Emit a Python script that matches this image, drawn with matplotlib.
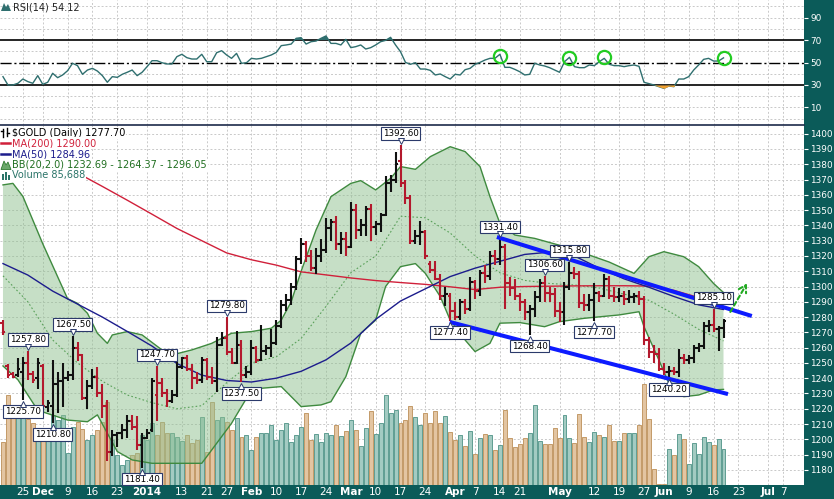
import numpy as np
import matplotlib
matplotlib.use("Agg")
import matplotlib.pyplot as plt
from matplotlib.collections import LineCollection
from matplotlib.patches import Polygon
from matplotlib.transforms import offset_copy

# ---------- $GOLD daily bars, 19 Nov 2013 .. 18 Jun 2014 (one value per trading day) ----------
opens = [1276, 1248, 1243, 1242, 1244, 1250, 1243, 1240, 1248, 1221,
         1222, 1236, 1238, 1240, 1242, 1260, 1255, 1227, 1235, 1241,
         1230, 1222, 1192, 1203, 1204, 1206, 1212, 1208, 1196, 1201,
         1206, 1229, 1237, 1230, 1225, 1229, 1247, 1253, 1246, 1240,
         1239, 1252, 1241, 1238, 1262, 1266, 1257, 1250, 1262, 1242,
         1244, 1260, 1252, 1258, 1260, 1263, 1274, 1288, 1291, 1300,
         1318, 1328, 1320, 1312, 1320, 1324, 1338, 1342, 1328, 1331,
         1326, 1350, 1337, 1340, 1351, 1339, 1341, 1347, 1368, 1370,
         1382, 1368, 1358, 1330, 1333, 1336, 1315, 1311, 1305, 1294,
         1294, 1284, 1280, 1290, 1285, 1303, 1297, 1309, 1307, 1320,
         1318, 1326, 1302, 1299, 1294, 1290, 1283, 1285, 1293, 1302,
         1296, 1295, 1284, 1283, 1300, 1309, 1308, 1289, 1288, 1291,
         1296, 1294, 1305, 1294, 1293, 1294, 1292, 1293, 1294, 1292,
         1265, 1257, 1256, 1246, 1244, 1245, 1244, 1253, 1252, 1253,
         1260, 1261, 1274, 1275, 1272, 1273]
highs = [1278, 1249, 1244, 1253, 1254, 1257.8, 1245, 1253, 1249, 1226,
         1252, 1244, 1250, 1245, 1267.5, 1264, 1256, 1239, 1246, 1247,
         1236, 1226, 1206, 1205, 1210, 1216, 1216, 1215, 1204, 1207,
         1240, 1247.7, 1240, 1233, 1232, 1252, 1254, 1255, 1249, 1244,
         1254, 1253, 1247, 1267, 1270, 1279.8, 1260, 1271, 1265, 1248,
         1265, 1261, 1275, 1262, 1272, 1278, 1291, 1295, 1302, 1320,
         1332, 1330, 1324, 1325, 1331, 1345, 1344, 1346, 1336, 1336,
         1355, 1354, 1344, 1353, 1354, 1343, 1348, 1372, 1373, 1388,
         1392.6, 1370, 1360, 1337, 1343, 1337, 1317, 1317, 1308, 1300,
         1296, 1290, 1292, 1292, 1306, 1304, 1311, 1314, 1323, 1324,
         1331.4, 1328, 1306, 1305, 1296, 1292, 1288, 1297, 1305, 1306.6,
         1300, 1299, 1290, 1303, 1315.8, 1313, 1310, 1295, 1295, 1302,
         1297, 1308, 1307, 1300, 1299, 1297, 1298, 1296, 1297, 1294,
         1267, 1262, 1260, 1250, 1248, 1247, 1259, 1256, 1255, 1262,
         1263, 1277, 1278, 1285.1, 1274, 1279]
lows = [1268, 1240, 1240, 1241, 1225.7, 1239, 1237, 1233, 1221, 1218,
        1210.8, 1217, 1221, 1238, 1239, 1251, 1225.7, 1220, 1233, 1228,
        1214, 1186, 1189, 1195, 1200, 1201, 1206, 1193, 1181.4, 1200,
        1205, 1212, 1228, 1221, 1224, 1228, 1246, 1245, 1233, 1236,
        1237, 1239, 1236, 1231, 1261, 1255, 1249, 1249, 1237.5, 1240,
        1242, 1250, 1251, 1255, 1254, 1262, 1273, 1284, 1288, 1298,
        1315, 1316, 1310, 1308, 1316, 1322, 1330, 1324, 1321, 1320,
        1325, 1331, 1333, 1333, 1330, 1334, 1336, 1346, 1362, 1368,
        1365, 1354, 1328, 1328, 1327, 1318, 1309, 1304, 1291, 1287,
        1277.4, 1278, 1278, 1282, 1284, 1292, 1294, 1302, 1304, 1314,
        1314, 1285, 1294, 1291, 1284, 1278, 1268.4, 1280, 1290, 1290,
        1290, 1280, 1277, 1275, 1298, 1305, 1286, 1284, 1284, 1277.7,
        1290, 1293, 1292, 1290, 1290, 1288, 1289, 1289, 1288, 1262,
        1253, 1250, 1245, 1242, 1240.2, 1242, 1241, 1249, 1249, 1250,
        1257, 1259, 1270, 1270, 1258, 1266]
closes = [1270, 1242, 1241, 1246, 1250, 1243, 1239, 1250, 1222, 1224,
          1236, 1238, 1240, 1242, 1260, 1255, 1227, 1235, 1241, 1230,
          1222, 1192, 1203, 1204, 1206, 1212, 1208, 1196, 1201, 1204,
          1238, 1237, 1230, 1225, 1229, 1247, 1253, 1246, 1240, 1239,
          1252, 1241, 1238, 1262, 1266, 1257, 1250, 1262, 1242, 1244,
          1260, 1252, 1258, 1260, 1263, 1274, 1288, 1291, 1300, 1318,
          1328, 1320, 1312, 1320, 1324, 1338, 1342, 1328, 1331, 1326,
          1350, 1337, 1340, 1351, 1339, 1341, 1347, 1368, 1370, 1380,
          1368, 1358, 1330, 1333, 1336, 1320, 1311, 1305, 1294, 1295,
          1284, 1280, 1290, 1285, 1303, 1297, 1309, 1307, 1320, 1318,
          1326, 1302, 1299, 1294, 1290, 1283, 1285, 1293, 1302, 1296,
          1295, 1284, 1283, 1300, 1309, 1308, 1289, 1288, 1291, 1296,
          1294, 1305, 1294, 1293, 1294, 1292, 1293, 1294, 1292, 1265,
          1257, 1256, 1246, 1244, 1245, 1244, 1253, 1252, 1253, 1260,
          1261, 1274, 1275, 1272, 1273, 1277.7]
# volume, thousands
volumes = [102, 214, 179, 186, 190, 157, 148, 107, 107, 133,
           167, 155, 167, 76, 138, 150, 133, 107, 119, 131,
           150, 198, 107, 71, 48, 60, 71, 76, 119, 107,
           148, 119, 150, 124, 124, 114, 105, 119, 100, 107,
           162, 79, 198, 155, 162, 150, 131, 159, 114, 119,
           83, 114, 124, 124, 143, 107, 131, 147, 102, 119,
           138, 171, 107, 121, 102, 124, 119, 143, 117, 129,
           155, 131, 93, 136, 176, 121, 148, 214, 171, 179,
           148, 155, 188, 162, 143, 171, 148, 176, 148, 164,
           126, 107, 119, 93, 129, 74, 112, 121, 119, 83,
           95, 179, 112, 90, 98, 112, 124, 190, 105, 98,
           98, 136, 112, 167, 112, 100, 169, 114, 102, 126,
           119, 114, 143, 105, 105, 124, 124, 124, 143, 240,
           157, 38, 3, 3, 86, 71, 121, 109, 50, 100,
           74, 114, 102, 95, 109, 85.688]

rsi = [37.4, 30.0, 30.0, 31.5, 35.3, 33.0, 31.5, 38.3, 30.6, 32.4,
       40.4, 36.5, 38.9, 42.7, 49.3, 47.2, 39.5, 43.3, 44.8, 42.4,
       38.3, 32.4, 37.4, 36.8, 39.5, 41.3, 43.3, 38.3, 41.3, 46.3,
       51.6, 51.6, 49.8, 48.7, 48.7, 55.2, 57.3, 54.3, 53.1, 53.1,
       57.3, 50.7, 50.7, 58.7, 60.5, 56.7, 53.7, 58.1, 49.3, 49.8,
       53.7, 53.1, 53.7, 55.2, 56.7, 59.0, 65.0, 65.6, 66.4, 71.5,
       72.1, 66.4, 68.5, 69.1, 71.5, 73.6, 67.0, 67.0, 65.6, 70.6,
       63.2, 64.1, 65.6, 62.0, 63.2, 65.6, 68.5, 69.7, 72.4, 65.6,
       59.6, 50.1, 48.4, 49.8, 44.2, 44.2, 43.0, 38.9, 39.8, 37.4,
       35.3, 39.5, 38.9, 43.6, 44.8, 48.4, 50.1, 52.2, 53.7, 53.7,
       57.3, 45.7, 45.7, 43.9, 41.8, 38.9, 39.5, 49.3, 47.8, 46.9,
       45.4, 43.3, 41.3, 50.7, 54.6, 46.3, 45.4, 45.4, 47.8, 47.2,
       50.7, 53.7, 48.4, 47.2, 47.2, 46.3, 47.2, 47.8, 46.6, 32.4,
       31.2, 30.0, 28.5, 27.0, 29.1, 28.5, 35.3, 35.3, 37.4, 43.3,
       47.8, 52.8, 53.7, 51.3, 51.3, 54.12]

# moving averages read every 5th bar
ma_idx = list(range(0, 146, 5))
ma200 = [1381, 1378.6, 1376.5, 1374.3, 1365.5, 1356.5, 1347.3, 1338, 1330, 1322,
         1317.5, 1314, 1309.6, 1307.6, 1305.6, 1303.9, 1302.6, 1301.4, 1299.8, 1298,
         1299.5, 1300, 1300.2, 1300.4, 1300.5, 1300.5, 1300.3, 1297.5, 1292.8, 1290.0]
ma50 = [1315, 1307.5, 1297, 1288.5, 1280, 1270.6, 1261, 1249.6, 1242, 1238.5,
        1237.5, 1240, 1244.5, 1252, 1263, 1278.5, 1290.5, 1298.5, 1306.5, 1312,
        1316.5, 1321, 1322.5, 1320, 1312, 1305, 1299.5, 1293.5, 1288, 1284.96]
bb_mid = [1307, 1290, 1265, 1250, 1238, 1229, 1224, 1220, 1222, 1237,
          1250, 1254, 1266, 1287, 1309, 1320, 1346, 1345, 1335, 1320,
          1309, 1304, 1302, 1301, 1299, 1295, 1291, 1282, 1272, 1264.37]

# Bollinger band edges read at their turning points
bb_up_idx = [0, 2, 4, 6, 8, 13, 15, 17, 19, 21, 22, 25, 28, 32, 34, 38, 42, 46, 50, 54,
             56, 58, 60, 63, 66, 70, 72, 75, 78, 80, 83, 86, 90, 93, 96, 98, 100, 103, 107, 113,
             117, 122, 127, 130, 133, 137, 140, 143, 145]
bb_up = [1366.5, 1367.5, 1359, 1343.5, 1328, 1292, 1289, 1282.5, 1269.4, 1262.8,
         1268.3, 1270.5, 1268.3, 1258.5, 1255.2, 1258.5, 1262.8, 1269.4, 1270.5, 1272.7,
         1278, 1290, 1310, 1337, 1358.8, 1367.5, 1369.3, 1363.2, 1370.8, 1378.5,
         1376.7, 1385, 1391.5, 1388.3, 1378.5, 1358.8, 1341.4, 1333.7, 1331.5, 1326.1,
         1321.7, 1316, 1308.6, 1319.5, 1322.8, 1319.5, 1313, 1302, 1296.05]
bb_lo_idx = [0, 3, 7, 13, 17, 19, 21, 23, 26, 30, 35, 40, 42, 46, 49, 52, 56, 60, 64, 66,
             69, 72, 75, 77, 80, 83, 85, 88, 90, 93, 95, 98, 100, 104, 109, 112, 117, 124, 128, 129,
             132, 134, 137, 140, 143, 145]
bb_lo = [1248, 1239, 1219, 1212.6, 1211.5, 1216, 1204, 1192, 1186.5, 1184.3,
         1184.3, 1184.3, 1193, 1210.5, 1226.8, 1233.4, 1234.5, 1221.4, 1222.5, 1224.6,
         1241, 1269.4, 1278, 1300, 1313, 1315, 1308.6, 1293.4, 1278, 1265,
         1257.4, 1262.8, 1276, 1276.4, 1273.7, 1277, 1279.2, 1281.4, 1283.5, 1273.7,
         1251.9, 1236.6, 1227.9, 1229, 1232.3, 1232.69]

# annotated highs / lows
label_idx = [4, 5, 10, 14, 28, 31, 45, 48, 80, 90, 100, 106, 109, 114, 119, 134, 143]
label_kind = ['low', 'high', 'low', 'high', 'low', 'high', 'high', 'low', 'high', 'low',
              'high', 'low', 'high', 'high', 'low', 'low', 'high']
label_val = [1225.70, 1257.80, 1210.80, 1267.50, 1181.40, 1247.70, 1279.80, 1237.50, 1392.60,
             1277.40, 1331.40, 1268.40, 1306.60, 1315.80, 1277.70, 1240.20, 1285.10]

# drawn channel + arrow
trend_hi_idx = [99.4, 150.7]
trend_hi = [1332.4, 1280.7]
trend_lo_idx = [89.9, 145.9]
trend_lo = [1276.8, 1229.6]
arrow_idx = [146.1, 150.0]
arrow_val = [1281.8, 1303.6]

# RSI circles
mark_idx = [100, 114, 121, 145]
mark_val = [55.8, 54.4, 54.9, 54.0]

# date axis
tick_idx = [4, 8, 13, 18, 23, 29, 36, 41, 45, 50, 55, 60, 65, 70, 75, 80, 85, 91, 95, 100,
            104, 112, 119, 124, 129, 133, 138, 143, 148, 154, 157]
tick_lab = ['25', 'Dec', '9', '16', '23', '2014', '13', '21', '27', 'Feb', '10', '17', '24',
            'Mar', '10', '17', '24', 'Apr', '7', '14', '21', 'May', '12', '19', '27', 'Jun',
            '9', '16', '23', 'Jul', '7']
months = {'Dec', '2014', 'Feb', 'Mar', 'Apr', 'May', 'Jun', 'Jul'}

# ---------- style ----------
TEAL = '#0b5b59'
GRID = '#c9c9c9'
UPC, DNC = '#111111', '#b3192d'
W, H = 834, 499
PW = 804  # plot width in px
XLIM = (-0.6, 161.2)

fig = plt.figure(figsize=(W / 100, H / 100), dpi=100, facecolor=TEAL)
rsi_rect = [0, (H - 125) / H, PW / W, 125 / H]
main_rect = [0, 14 / H, PW / W, 360 / H]

ax_rsi = fig.add_axes(rsi_rect, facecolor='white')
ax_bg = fig.add_axes(main_rect, facecolor='white')
ax_vol = fig.add_axes(main_rect)
ax = fig.add_axes(main_rect)
ax_bg.set_zorder(0)
ax_vol.set_zorder(1)
ax.set_zorder(2)
ax_vol.patch.set_visible(False)
ax.patch.set_visible(False)

for a in (ax_rsi, ax_bg, ax_vol, ax):
    a.set_xlim(*XLIM)
    for s in a.spines.values():
        s.set_visible(False)

ax.set_ylim(1170.1, 1405.7)
ax_bg.set_ylim(1170.1, 1405.7)
ax_vol.set_ylim(0, 857)
ax_rsi.set_ylim(-5.6, 105.6)

# grid (drawn under everything)
for t in tick_idx:
    ax_bg.axvline(t, color=GRID, lw=0.7, ls=(0, (2, 2)), zorder=0)
    ax_rsi.axvline(t, color=GRID, lw=0.7, ls=(0, (2, 2)), zorder=0)
for lvl in range(1180, 1401, 10):
    ax_bg.axhline(lvl, color=GRID, lw=0.7, ls=(0, (2, 2)), zorder=0)
for lvl in range(0, 101, 10):
    if lvl not in (30, 50, 70):
        ax_rsi.axhline(lvl, color=GRID, lw=0.7, ls=(0, (2, 2)), zorder=0)
ax_bg.set_xticks([])
ax_bg.set_yticks([])
ax_vol.set_xticks([])
ax_vol.set_yticks([])

# ---------- volume ----------
n = len(closes)
x = np.arange(n)
up = [closes[0] >= opens[0]] + [closes[i] >= closes[i - 1] for i in range(1, n)]
vface = ['#a3cbc2' if u else '#e3c5a2' for u in up]
vedge = ['#5f9d92' if u else '#c39a68' for u in up]
ax_vol.bar(x, volumes, width=0.8, color=vface, edgecolor=vedge, linewidth=0.7)

# ---------- bollinger bands + MAs ----------
poly_x = list(bb_up_idx) + list(bb_lo_idx[::-1])
poly_y = list(bb_up) + list(bb_lo[::-1])
ax.fill(poly_x, poly_y, color='#8fc08f', alpha=0.5, lw=0, zorder=1)
ax.plot(bb_up_idx, bb_up, color='#3f8a3f', lw=1, zorder=2)
ax.plot(bb_lo_idx, bb_lo, color='#3f8a3f', lw=1, zorder=2)
ax.plot(ma_idx, bb_mid, color='#5aa05a', lw=0.8, ls=(0, (1.5, 2)), zorder=2)
ax.plot(ma_idx, ma200, color='#d0203a', lw=1, zorder=3)
ax.plot(ma_idx, ma50, color='#1c1c8c', lw=1, zorder=3)

# ---------- OHLC bars ----------
segs, cols = [], []
for i in range(n):
    c = UPC if up[i] else DNC
    segs += [[(i, lows[i]), (i, highs[i])],
             [(i - 0.5, opens[i]), (i, opens[i])],
             [(i, closes[i]), (i + 0.5, closes[i])]]
    cols += [c, c, c]
ax.add_collection(LineCollection(segs, colors=cols, linewidths=1.5, capstyle='butt', zorder=4))

# channel lines and arrow
ax.plot(trend_hi_idx, trend_hi, color='#0d1bff', lw=2.9, solid_capstyle='butt', zorder=5)
ax.plot(trend_lo_idx, trend_lo, color='#0d1bff', lw=2.9, solid_capstyle='butt', zorder=5)
ax.annotate('', xy=(arrow_idx[1], arrow_val[1]), xytext=(arrow_idx[0], arrow_val[0]),
            arrowprops=dict(arrowstyle='->,head_length=0.5,head_width=0.3', color='#22aa22',
                            lw=1.5, linestyle=(0, (2, 1.5))), zorder=5)

# price labels
for idx, kind, val in zip(label_idx, label_kind, label_val):
    off = 5 if kind == 'high' else -5
    ax.annotate(f"{val:.2f}", xy=(idx, val), xytext=(0, off), textcoords='offset points',
                ha='center', va='bottom' if kind == 'high' else 'top', fontsize=6.3,
                color='black', zorder=8,
                bbox=dict(boxstyle='square,pad=0.2', fc='white', ec='#2b3a6b', lw=0.8))
    tr = offset_copy(ax.transData, fig=fig, y=3.2 if kind == 'high' else -3.2, units='points')
    ax.plot(idx, val, marker='v' if kind == 'high' else '^', ms=4, mfc='white', mec='#2b3a6b',
            mew=0.7, transform=tr, zorder=9, clip_on=False)

# ---------- axes / ticks ----------
ax.yaxis.tick_right()
ax.set_yticks(np.arange(1180, 1401, 10))
ax.tick_params(axis='y', colors='white', labelsize=6.4, length=3, width=0.8, pad=1.5)
ax.set_xticks(tick_idx)
ax.set_xticklabels(tick_lab)
ax.tick_params(axis='x', colors='white', labelsize=7.5, length=0, pad=1.5)
for lbl in ax.get_xticklabels():
    if lbl.get_text() in months:
        lbl.set_fontweight('bold')
ax.spines['top'].set_visible(True)
ax.spines['top'].set_color('#1c2a4a')
ax.spines['top'].set_linewidth(1.2)

# legend (white boxes hide lines behind)
leg = [("$GOLD (Daily) 1277.70", 'black', 7.7),
       ("MA(200) 1290.00", '#d0203a', 18.3),
       ("MA(50) 1284.96", '#1c1c8c', 29.3),
       ("BB(20,2.0) 1232.69 - 1264.37 - 1296.05", '#1f6e1f', 40.0),
       ("Volume 85,688", '#2a7468', 50.5)]
for txt, col, py in leg:
    ax.text(12 / PW, 1 - py / 360, txt, transform=ax.transAxes, color=col, fontsize=7,
            va='center', ha='left', zorder=10,
            bbox=dict(fc='white', ec='none', pad=0.6))
    ax.add_patch(Polygon([(0, 1 - (py - 6) / 360), (11 / PW, 1 - (py - 6) / 360),
                          (11 / PW, 1 - (py + 6) / 360), (0, 1 - (py + 6) / 360)],
                         closed=True, fc='white', ec='none', transform=ax.transAxes, zorder=10))


# legend icons
def px(xp, yp, h=360.0):
    return (xp / PW, 1 - yp / h)


ax.plot(*zip(px(3, 4), px(3, 12)), color='black', lw=1, transform=ax.transAxes, zorder=11)
ax.plot(*zip(px(7, 3), px(7, 11)), color='black', lw=1, transform=ax.transAxes, zorder=11)
ax.plot(*zip(px(1, 6), px(3, 6)), color='black', lw=1, transform=ax.transAxes, zorder=11)
ax.plot(*zip(px(7, 8), px(9, 8)), color='black', lw=1, transform=ax.transAxes, zorder=11)
ax.plot(*zip(px(1, 18.3), px(10, 18.3)), color='#d0203a', lw=1.8, transform=ax.transAxes, zorder=11)
ax.plot(*zip(px(1, 29.3), px(10, 29.3)), color='#1c1c8c', lw=1.8, transform=ax.transAxes, zorder=11)
ax.add_patch(Polygon([px(1, 44.5), px(4, 36), px(6, 40), px(8, 37), px(11, 44.5)],
                     fc='#6aa86a', ec='#2f7a2f', lw=0.6, transform=ax.transAxes, zorder=11))
for bx, bh in ((2, 6), (5, 8), (8, 5)):
    ax.add_patch(Polygon([px(bx, 55), px(bx, 55 - bh), px(bx + 2, 55 - bh), px(bx + 2, 55)],
                         fc='#2a7468', ec='none', transform=ax.transAxes, zorder=11))

# ---------- RSI panel ----------
rsi_arr = np.array(rsi)
ax_rsi.plot(x, rsi_arr, color='#2f6f6f', lw=1, zorder=3)
ax_rsi.fill_between(x, rsi_arr, 70, where=rsi_arr > 70, interpolate=True, color='#2f6f6f', lw=0, zorder=3)
ax_rsi.fill_between(x, rsi_arr, 30, where=rsi_arr < 30, interpolate=True, color='#f0a030', lw=0, zorder=3)
ax_rsi.axhline(70, color='black', lw=1.2, zorder=2)
ax_rsi.axhline(30, color='black', lw=1.2, zorder=2)
ax_rsi.axhline(50, color='black', lw=1, ls=(0, (8, 2, 1.5, 2)), zorder=2)
ax_rsi.plot(mark_idx, mark_val, 'o', ms=9.5, mfc='none', mec='#22cc22', mew=1.6, zorder=4)
ax_rsi.yaxis.tick_right()
ax_rsi.set_yticks([10, 30, 50, 70, 90])
ax_rsi.tick_params(axis='y', colors='white', labelsize=6.4, length=3, width=0.8, pad=1.5)
ax_rsi.set_xticks(tick_idx)
ax_rsi.tick_params(axis='x', length=0, labelbottom=False)
ax_rsi.text(13 / PW, 1 - 7 / 125, "RSI(14) 54.12", transform=ax_rsi.transAxes, fontsize=7,
            color='#222222', va='center', ha='left', zorder=10)
ax_rsi.add_patch(Polygon([px(1, 11, 125), px(4, 3, 125), px(6, 7, 125), px(8, 4, 125), px(11, 11, 125)],
                         fc='#2f6f6f', ec='none', transform=ax_rsi.transAxes, zorder=11))

fig.savefig("out.png", dpi=100, facecolor=TEAL)
